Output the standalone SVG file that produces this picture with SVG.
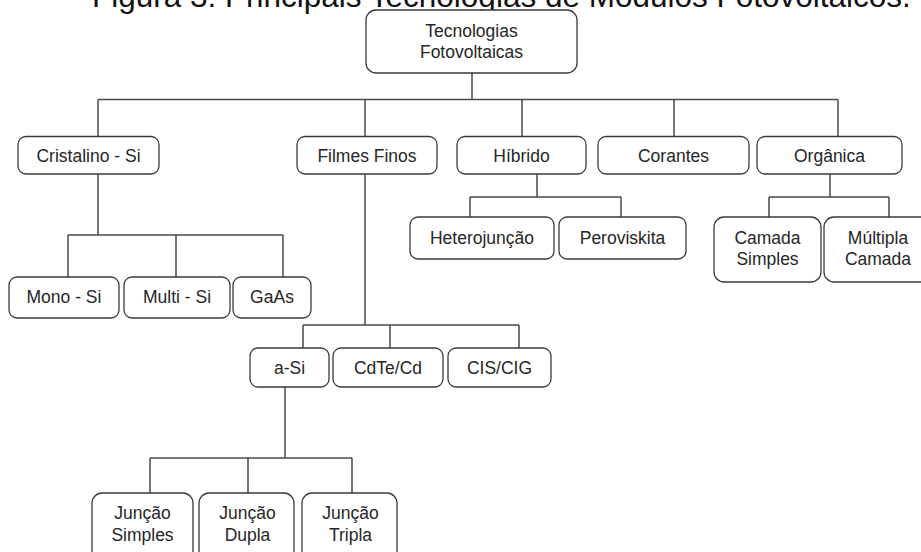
<svg xmlns="http://www.w3.org/2000/svg" width="921" height="552" viewBox="0 0 921 552">
<style>
.box{fill:#ffffff;stroke:#3a3a3a;stroke-width:1.3}
.lbl{font-family:"Liberation Sans",Arial,sans-serif;font-size:17.5px;fill:#262626;text-anchor:middle}
.title{font-family:"Liberation Sans",Arial,sans-serif;font-size:31.5px;fill:#111111}
.conn{fill:none;stroke:#4a4a4a;stroke-width:1.5}
</style>
<rect width="921" height="552" fill="#ffffff"/>
<text class="title" x="92" y="7">Figura 3: Principais Tecnologias de Módulos Fotovoltaicos.</text>
<g id="connectors">
<path class="conn" d="M472 73V99.5M98 99.5H838M98 99.5V137M365 99.5V137M522 99.5V137M674 99.5V137M838 99.5V137"/>
<path class="conn" d="M98 174V235M68 235H283M68 235V277M176 235V277M283 235V277"/>
<path class="conn" d="M537 174V197M470 197H621M470 197V217M621 197V217"/>
<path class="conn" d="M830 174V197M769 197H889M769 197V217M889 197V217"/>
<path class="conn" d="M365 174V325M303 325H519M303 325V348M390 325V348M519 325V348"/>
<path class="conn" d="M285 387V458M150 458H352M150 458V493M248 458V493M352 458V493"/>
</g>
<g id="root"><rect class="box" x="366" y="10" width="211" height="63" rx="10"/><text class="lbl" x="471.5" y="36.5">Tecnologias</text><text class="lbl" x="471.5" y="58">Fotovoltaicas</text></g>
<g id="cristalino"><rect class="box" x="18" y="136.5" width="141" height="37.5" rx="8"/><text class="lbl" x="88.5" y="161.7">Cristalino - Si</text></g>
<g id="filmes"><rect class="box" x="297" y="136.5" width="140" height="37.5" rx="8"/><text class="lbl" x="367" y="161.7">Filmes Finos</text></g>
<g id="hibrido"><rect class="box" x="457" y="136.5" width="129" height="37.5" rx="8"/><text class="lbl" x="521.5" y="161.7">Híbrido</text></g>
<g id="corantes"><rect class="box" x="598" y="136.5" width="151" height="37.5" rx="8"/><text class="lbl" x="673.5" y="161.7">Corantes</text></g>
<g id="organica"><rect class="box" x="757" y="136.5" width="145" height="37.5" rx="8"/><text class="lbl" x="829.5" y="161.7">Orgânica</text></g>
<g id="mono"><rect class="box" x="9" y="277" width="110" height="41" rx="8"/><text class="lbl" x="64" y="303.3">Mono - Si</text></g>
<g id="multi"><rect class="box" x="124" y="277" width="106" height="41" rx="8"/><text class="lbl" x="177" y="303.3">Multi - Si</text></g>
<g id="gaas"><rect class="box" x="233" y="277" width="78" height="41" rx="8"/><text class="lbl" x="272" y="303.3">GaAs</text></g>
<g id="hetero"><rect class="box" x="410" y="217" width="144" height="42" rx="8"/><text class="lbl" x="482" y="244">Heterojunção</text></g>
<g id="perov"><rect class="box" x="559" y="217" width="127" height="42" rx="8"/><text class="lbl" x="622.5" y="244">Peroviskita</text></g>
<g id="camada-simples"><rect class="box" x="714" y="217" width="107" height="65" rx="10"/><text class="lbl" x="767.5" y="244.3">Camada</text><text class="lbl" x="767.5" y="265">Simples</text></g>
<g id="multipla"><rect class="box" x="824" y="217" width="108" height="65" rx="10"/><text class="lbl" x="878" y="244.3">Múltipla</text><text class="lbl" x="878" y="265">Camada</text></g>
<g id="asi"><rect class="box" x="250" y="348" width="79" height="39" rx="8"/><text class="lbl" x="289.5" y="374">a-Si</text></g>
<g id="cdte"><rect class="box" x="333" y="348" width="110" height="39" rx="8"/><text class="lbl" x="388" y="374">CdTe/Cd</text></g>
<g id="cis"><rect class="box" x="448" y="348" width="103" height="39" rx="8"/><text class="lbl" x="499.5" y="374">CIS/CIG</text></g>
<g id="jsimples"><rect class="box" x="92" y="493" width="101" height="70" rx="10"/><text class="lbl" x="142.5" y="519.3">Junção</text><text class="lbl" x="142.5" y="540.7">Simples</text></g>
<g id="jdupla"><rect class="box" x="199" y="493" width="95" height="70" rx="10"/><text class="lbl" x="247.5" y="519.3">Junção</text><text class="lbl" x="247.5" y="540.7">Dupla</text></g>
<g id="jtripla"><rect class="box" x="302" y="493" width="95" height="70" rx="10"/><text class="lbl" x="350.5" y="519.3">Junção</text><text class="lbl" x="350.5" y="540.7">Tripla</text></g>
</svg>
